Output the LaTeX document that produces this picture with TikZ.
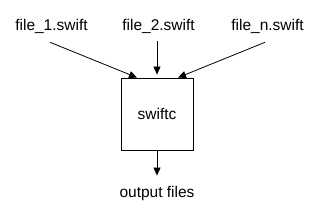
\documentclass[tikz,border=0pt]{standalone}
\usepackage{fontspec}
\setmainfont{Liberation Sans}
\usetikzlibrary{arrows.meta,positioning}

\begin{document}
\begin{tikzpicture}[
  x=1pt,y=-1pt,
  label/.style={inner sep=0pt,anchor=base,font=\fontsize{15.5}{18}\selectfont},
  box/.style={draw,line width=0.8pt,minimum width=72pt,minimum height=72pt,inner sep=0pt,font=\fontsize{15.5}{18}\selectfont},
  arrow/.style={-{Triangle[length=8pt,width=7pt]},line width=0.8pt}
]
\useasboundingbox (0,0) rectangle (320,216);
\node[label] (f1) at (51.5,31) {file\_1.swift};
\node[label] (f2) at (158.5,31) {file\_2.swift};
\node[label] (fn) at (267.5,31) {file\_n.swift};
\node[box] (swiftc) at (157,114) {swiftc};
\node[label] (out) at (157,197) {output files};
\draw[arrow] ([xshift=-1.5pt,yshift=-8pt]f1.south) -- ([xshift=-20pt]swiftc.north);
\draw[arrow] ([xshift=-1.5pt,yshift=-7pt]f2.south) -- ([yshift=3pt]swiftc.north);
\draw[arrow] ([xshift=-2.5pt,yshift=-8pt]fn.south) -- ([xshift=21pt]swiftc.north);
\draw[arrow] (swiftc.south) -- ([yshift=10pt]out.north);
\end{tikzpicture}
\end{document}
